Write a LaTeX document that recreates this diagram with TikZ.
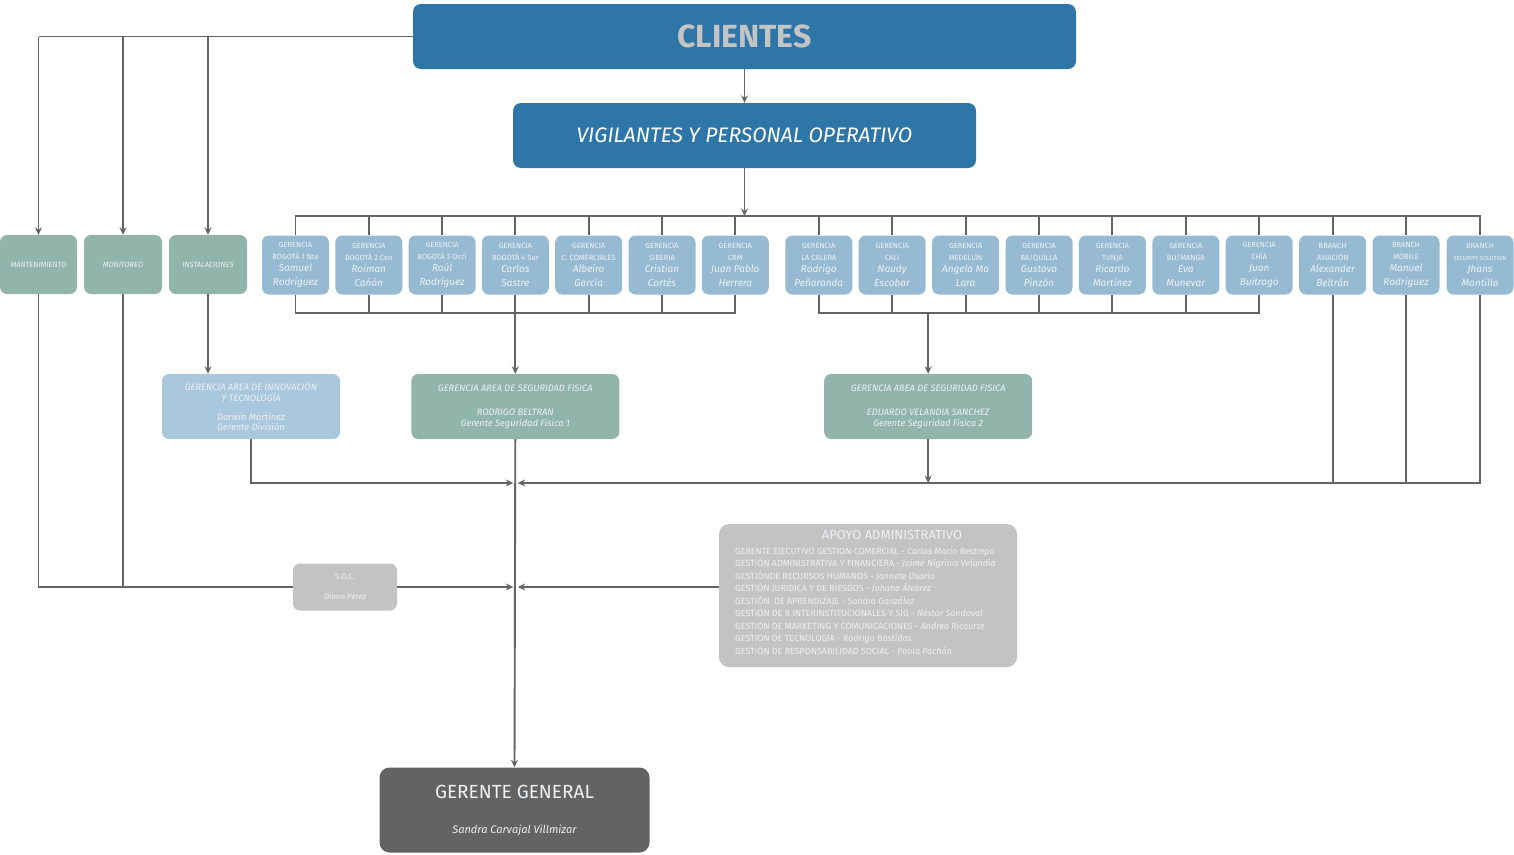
\documentclass[tikz,border=0pt]{standalone}
\usepackage{fontspec}
\setmainfont{Fira Sans}
\newfontfamily\widefont{Fira Sans}
\usetikzlibrary{arrows.meta}
\definecolor{cblue}{RGB}{46,118,168}
\definecolor{lblue}{RGB}{151,186,211}
\definecolor{pblue}{RGB}{169,200,221}
\definecolor{cgreen}{RGB}{146,181,171}
\definecolor{cgray}{RGB}{195,195,195}
\definecolor{dgray}{RGB}{99,99,99}
\definecolor{lineC}{RGB}{100,100,100}
\definecolor{txt}{RGB}{236,241,245}
\definecolor{clitxt}{RGB}{196,196,196}
\newcommand\namefnt{\fontsize{10}{13.5}\selectfont\itshape}
\newcommand\gbx[6]{\node[gbox] (#1) at (#2,265) {#3\\#4\\\namefnt #5\\[2pt]\namefnt #6};}
\begin{document}
\begin{tikzpicture}[x=1pt,y=-1pt,
  box/.style={rounded corners=7pt, inner sep=0pt, align=center, text=txt},
  gbox/.style={box, fill=lblue, minimum width=67pt, minimum height=59pt, font=\fontsize{7.5}{12}\selectfont},
  greenbox/.style={box, fill=cgreen, minimum width=78pt, minimum height=59pt, font=\fontsize{7.5}{10}\selectfont\itshape},
  mgr/.style={box, minimum width=208pt, minimum height=65pt, font=\fontsize{9.3}{10.5}\selectfont\itshape},
  conn/.style={draw=lineC, line width=1.9pt},
  arr/.style={conn, -{Stealth[length=7.5pt,width=7pt,inset=2.5pt]}}]
\useasboundingbox (0,0) rectangle (1514,854);

% top boxes
\node[box, fill=cblue, rounded corners=8pt, minimum width=663pt, minimum height=65pt,
  text=clitxt, font=\widefont\bfseries\fontsize{32}{32}\selectfont] (cli) at (744.5,36.5) {CLIENTES};
\node[box, fill=cblue, rounded corners=8pt, minimum width=463pt, minimum height=65pt,
  text=white, font=\fontsize{21}{24}\selectfont\itshape] (vig) at (744.5,135.5) {VIGILANTES Y PERSONAL OPERATIVO};

% left green boxes
\node[greenbox, minimum width=77pt] (mant) at (38.5,264.5) {MANTENIMIENTO};
\node[greenbox] (mon) at (123,264.5) {MONITOREO};
\node[greenbox] (inst) at (208,264.5) {INSTALACIONES};

% blue boxes
\gbx{g1}{295.5}{GERENCIA}{BOGOTÁ 1 Nte}{Samuel}{Rodríguez}
\gbx{g2}{368.8}{GERENCIA}{BOGOTÁ 2 Cen}{Roiman}{Cañón}
\gbx{g3}{442.1}{GERENCIA}{BOGOTÁ 3 Occi}{Raúl}{Rodríguez}
\gbx{g4}{515.4}{GERENCIA}{BOGOTÁ 4 Sur}{Carlos}{Sastre}
\gbx{g5}{588.7}{GERENCIA}{C. COMERCIALES}{Albeiro}{García}
\gbx{g6}{662}{GERENCIA}{SIBERIA}{Cristian}{Cortés}
\gbx{g7}{735.3}{GERENCIA}{CRM}{Juan Pablo}{Herrera}
\gbx{g8}{818.8}{GERENCIA}{LA CALERA}{Rodrigo}{Peñaranda}
\gbx{g9}{892.2}{GERENCIA}{CALI}{Naudy}{Escobar}
\gbx{g10}{965.6}{GERENCIA}{MEDELLÍN}{Angela Ma}{Lara}
\gbx{g11}{1039}{GERENCIA}{BA/QUILLA}{Gustavo}{Pinzón}
\gbx{g12}{1112.4}{GERENCIA}{TUNJA}{Ricardo}{Martínez}
\gbx{g13}{1185.8}{GERENCIA}{BU/MANGA}{Eva}{Munevar}
\gbx{g14}{1259.2}{GERENCIA}{CHÍA}{Juan}{Buitrago}
\gbx{g15}{1332.6}{BRANCH}{AVIACIÓN}{Alexander}{Beltrán}
\gbx{g16}{1406}{BRANCH}{MOBILE}{Manuel}{Rodríguez}
\gbx{g17}{1480}{BRANCH}{{\fontsize{5.8}{12}\selectfont SECURITY SOLUTION}}{Jhans}{Montilla}

% managers
\node[mgr, fill=pblue, minimum width=178pt] (innov) at (251,406.5)
  {GERENCIA AREA DE INNOVACIÓN\\Y TECNOLOGÍA\\[8.5pt]Darwin Martínez\\Gerente División};
\node[mgr, fill=cgreen] (seg1) at (515.3,406.5)
  {GERENCIA AREA DE SEGURIDAD FISICA\\[14pt]RODRIGO BELTRAN\\Gerente Seguridad Fisica 1};
\node[mgr, fill=cgreen] (seg2) at (928.2,406.5)
  {GERENCIA AREA DE SEGURIDAD FISICA\\[14pt]EDUARDO VELANDIA SANCHEZ\\Gerente Seguridad Fisica 2};

% SOC
\node[box, fill=cgray, minimum width=104pt, minimum height=47pt, font=\fontsize{8}{10}\selectfont] (soc) at (345,587)
  {S.O.C.\\[10pt]\itshape Diana Pérez};

% apoyo
\node[box, fill=cgray, rounded corners=10pt, minimum width=298pt, minimum height=143pt] (apoyo) at (868,595.5) {};
\node[inner sep=0pt, text=txt, font=\fontsize{13}{14}\selectfont] (apoyoT) at (892,535.5) {APOYO ADMINISTRATIVO};
\node[inner sep=0pt, anchor=north west, align=left, text=txt, font=\fontsize{8.9}{12.5}\selectfont] (apoyoL) at (735,547)
  {GERENTE EJECUTIVO GESTION COMERCIAL - \textit{Carlos Mario Restrepo}\\
   GESTIÓN ADMINISTRATIVA Y FINANCIERA - \textit{Jaime Nigrinis Velandia}\\
   GESTIÓNDE RECURSOS HUMANOS - \textit{Jannete Osorio}\\
   GESTIÓN JURIDICA Y DE RIESGOS - \textit{Johana Álvarez}\\
   GESTIÓN\ \ DE APRENDIZAJE - \textit{Sandra González}\\
   GESTION DE R INTERINSTITUCIONALES Y SIG - \textit{Néstor Sandoval}\\
   GESTION DE MARKETING Y COMUNICACIONES - \textit{Andrea Ricaurte}\\
   GESTION DE TECNOLOGIA - \textit{Rodrigo Bastidas}\\
   GESTIÓN DE RESPONSABILIDAD SOCIAL - \textit{Paola Pachón}};

% gerente general
\node[box, fill=dgray, rounded corners=10pt, minimum width=270pt, minimum height=85pt, text=txt,
  font=\fontsize{19}{24}\selectfont] (gg) at (514.5,810)
  {GERENTE GENERAL\\[11pt]\fontsize{11}{14}\selectfont\itshape Sandra Carvajal Villmizar};

% coordinates
\coordinate (busT) at (0,216);
\coordinate (busB) at (0,313);
\coordinate (busC) at (0,483);
\coordinate (jL) at (513.3,483);
\coordinate (jR) at (517.7,483);
\coordinate (sL) at (513.3,587);
\coordinate (sR) at (517.7,587);

% connectors top
\draw[arr] (cli.south) -- (vig.north);
\draw[conn] (cli.west) -- (cli.west -| mant.north);
\draw[arr] (cli.west -| mant.north) -- (mant.north);
\draw[arr] (cli.west -| mon.north) -- (mon.north);
\draw[arr] (cli.west -| inst.north) -- (inst.north);
\draw[arr] (vig.south) -- (vig.south |- busT);
\draw[conn] (g1.north) -- (g1.north |- busT) -- (g17.north |- busT) -- (g17.north);
\foreach \i in {2,...,16} \draw[conn] (g\i.north) -- (g\i.north |- busT);

% bottom buses
\draw[conn] (g1.south) -- (g1.south |- busB) -- (g7.south |- busB) -- (g7.south);
\foreach \i in {2,...,6} \draw[conn] (g\i.south) -- (g\i.south |- busB);
\draw[conn] (g8.south) -- (g8.south |- busB) -- (g14.south |- busB) -- (g14.south);
\foreach \i in {9,...,13} \draw[conn] (g\i.south) -- (g\i.south |- busB);
\draw[arr] (seg1.north |- busB) -- (seg1.north);
\draw[arr] (seg2.north |- busB) -- (seg2.north);
\draw[arr] (inst.south) -- (inst.south |- innov.north);

% third bus
\draw[conn] (g15.south) -- (g15.south |- busC);
\draw[conn] (g16.south) -- (g16.south |- busC);
\draw[arr] (g17.south) -- (g17.south |- busC) -- (jR);
\draw[arr] (seg2.south) -- (seg2.south |- busC);
\draw[arr] (innov.south) -- (innov.south |- busC) -- (jL);
\draw[arr] (seg1.south) -- (gg.north);

% soc line
\draw[conn] (mant.south) -- (mant.south |- soc.west) -- (soc.west);
\draw[conn] (mon.south) -- (mon.south |- soc.west);
\draw[arr] (soc.east) -- (sL);
\draw[arr] (apoyo.west |- soc.west) -- (sR);
\end{tikzpicture}
\end{document}
